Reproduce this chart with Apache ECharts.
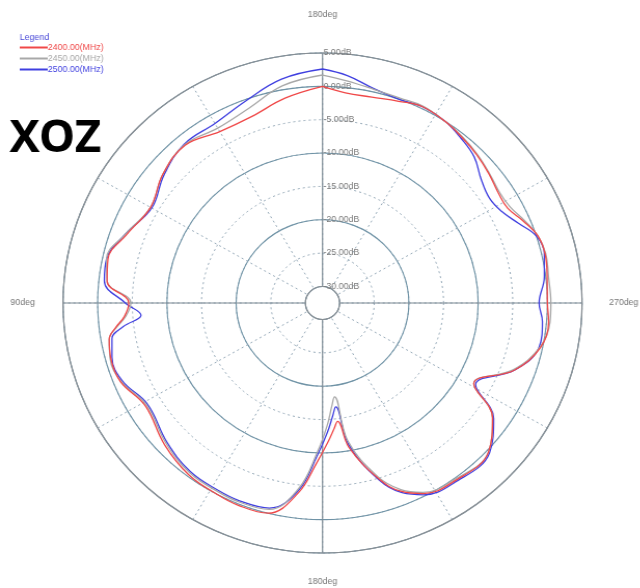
<!DOCTYPE html>
<html>
<head>
<meta charset="utf-8">
<script src="https://cdn.jsdelivr.net/npm/echarts@6/dist/echarts.min.js"></script>
<style>
html,body{margin:0;padding:0;background:#fff;overflow:hidden}
#wrap{width:640px;height:588px;overflow:hidden;position:relative}
#c{width:617px;height:588px;transform:scaleX(1.038);transform-origin:0 0}
</style>
</head>
<body>
<div id="wrap"><div id="c"></div></div>
<script>
// angles in degrees, counter-clockwise from top
const angles = [0,10,20,30,40,50,60,70,78,84,90,94,97,100,105,112,121,133,143,152,158,166,173,178,182,185,187,190,197,202,207,215,227,235,241,250,258,265,270,277,283,288,293,298,303,309,315,321,327,334,340,347,354,360];
const red2400 = [0,-1.3,-2.7,-2.8,-1.6,-2.4,-3.8,-2.4,-0.8,-1.2,-4.5,-3.8,-2.4,-1.2,-0.8,-1,-2.6,-1.3,-0.3,0,0.2,0,-3.8,-8.5,-11.5,-13.5,-14.6,-10.5,-5,-2,-0.4,0.3,0.3,-2.5,-7.5,-3,-0.3,0.3,0,0.2,0.5,0.2,-1,-2.2,-2.2,-1.6,-1,-0.5,0,0.3,-0.3,-0.8,-0.8,0];
const gray2450 = [1.7,0.6,-1.4,-2.2,-1.5,-2.4,-3.8,-2.2,-0.6,-1.2,-4.8,-4,-2.5,-1.2,-0.7,-1.1,-2.8,-1.6,-0.6,-0.4,-0.3,-0.6,-4.5,-10,-14,-17,-18.3,-11.5,-5.3,-2.3,-0.6,0.1,0.3,-2.5,-7.5,-3.2,-0.4,0.5,0.5,0.4,0.6,0.2,-0.8,-1.8,-2,-1.5,-0.9,-0.4,0,0.4,0.2,0.4,1,1.7];
const blue2500 = [2.6,1.6,-0.2,-1.4,-1.4,-2.6,-4,-2.2,-0.6,-0.8,-4,-6.2,-3.5,-1.6,-1,-1.3,-3,-1.8,-0.8,-0.6,-0.5,-0.8,-4.2,-9.5,-13,-15.5,-16.8,-11,-4.8,-1.8,-0.2,0.5,0.5,-2.3,-7.2,-3,-0.5,-0.6,-1.2,-0.2,0.4,0,-1.8,-3.2,-3.7,-3,-1.5,-0.7,0,0.3,0,0.5,1.8,2.6];
const seriesNames = ['2400.00(MHz)','2450.00(MHz)','2500.00(MHz)'];
const seriesColors = ['#f04848','#a8a8a8','#3f3fe0'];
const angleTickValues = [0,90,180,270];
const angleTickLabels = ['180deg','90deg','180deg','270deg'];
const angleTickStyles = ['top','left','bottom','right'];

const values = [red2400, gray2450, blue2500];
const chart = echarts.init(document.getElementById('c'), null, {renderer:'canvas'});
const polarBox = {center:[310.7,303], radius:[16.5,250]};
const lbl = {color:'#777', fontSize:8.5, fontFamily:'Liberation Sans'};
const option = {
  animation:false,
  backgroundColor:'#fff',
  title:[
    {text:'Legend', left:19, top:33, padding:0, textStyle:{color:'#4848d8', fontSize:8.5, fontWeight:'normal', fontFamily:'Liberation Sans'}},
    {text:'XOZ', left:9, top:117, padding:0, textStyle:{color:'#000', fontSize:44, fontWeight:'bold', fontFamily:'Noto Sans'}}
  ],
  legend:{
    orient:'vertical', left:19, top:43, padding:0, itemWidth:27, itemHeight:2, itemGap:2, icon:'rect',
    data: seriesNames.map((n,i)=>({name:n, textStyle:{color:seriesColors[i]}})),
    textStyle:{fontSize:8.5, fontFamily:'Liberation Sans', padding:[0,0,0,-5]}
  },
  polar:[Object.assign({}, polarBox), Object.assign({}, polarBox)],
  angleAxis:[
    {polarIndex:0, type:'value', min:0, max:360, interval:30, startAngle:90, clockwise:false,
     axisLine:{show:false}, axisTick:{show:false}, axisLabel:{show:false},
     splitLine:{show:true, lineStyle:{color:'#95a9b8', type:[2,3], width:1}}},
    {polarIndex:1, type:'value', min:0, max:360, interval:90, startAngle:90, clockwise:false,
     axisLine:{show:true, lineStyle:{color:'#8a8f94', width:1.2}}, axisTick:{show:false},
     axisLabel:{show:true, margin:22, color:'#777', fontSize:8.5, fontFamily:'Liberation Sans',
       formatter:(v)=>{const k=angleTickValues.indexOf(v); return k>=0?('{'+angleTickStyles[k]+'|'+angleTickLabels[k]+'}'):'';},
       rich:{
         top:Object.assign({padding:[0,0,12,0]}, lbl),
         left:Object.assign({padding:[0,5,0,0]}, lbl),
         right:Object.assign({padding:[0,0,0,4]}, lbl),
         bottom:Object.assign({padding:[2,0,0,0]}, lbl)}},
     splitLine:{show:true, lineStyle:{color:'#7d8a94', width:1.2}}}
  ],
  radiusAxis:[
    {polarIndex:0, type:'value', min:-30, max:5, interval:5,
     axisLine:{show:false}, axisTick:{show:false},
     axisLabel:{show:true, margin:-1, align:'left', verticalAlign:'middle', color:'#7a7a7a', fontSize:8.5, fontFamily:'Liberation Sans',
       formatter:(v)=>v.toFixed(2)+'dB'},
     splitLine:{show:true, lineStyle:{color:'#95a9b8', type:[2,3], width:1}}},
    {polarIndex:1, type:'value', min:-30, max:5, interval:10,
     axisLine:{show:false}, axisTick:{show:false}, axisLabel:{show:false},
     splitLine:{show:true, lineStyle:{color:'#6f93a6', width:1.1}}}
  ],
  series: seriesNames.map((n,i)=>({
    name:n, type:'line', coordinateSystem:'polar', polarIndex:0,
    data: angles.map((a,j)=>[values[i][j], a]),
    showSymbol:false, symbol:'none', smooth:0.4, z:10+(2-i),
    lineStyle:{color:seriesColors[i], width:1.3}, itemStyle:{color:seriesColors[i]}
  }))
};
chart.setOption(option);
</script>
</body>
</html>
